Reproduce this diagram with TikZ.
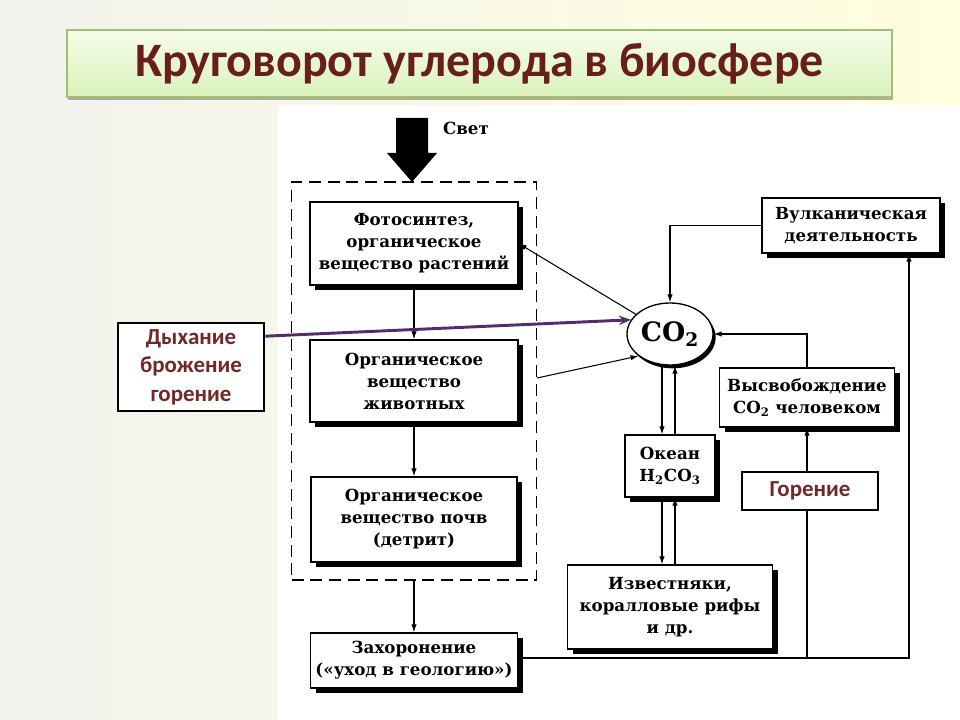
\documentclass[tikz,border=0pt]{standalone}
\usepackage{fontspec}
\setmainfont{DejaVu Serif}
\newfontfamily\calib{Carlito}
\usetikzlibrary{arrows.meta,shadows,calc,shapes.geometric}
\definecolor{bgl}{RGB}{242,242,238}
\definecolor{bgr}{RGB}{255,255,222}
\definecolor{titlered}{RGB}{105,30,30}
\definecolor{labred}{RGB}{112,40,40}
\definecolor{purp}{RGB}{82,45,110}
\definecolor{ttop}{RGB}{246,253,232}
\definecolor{tbot}{RGB}{218,242,188}
\definecolor{tborder}{RGB}{160,192,112}
\tikzset{
  pbox/.style={draw, line width=0.9pt, fill=white, align=center, inner sep=0pt,
    font=\bfseries\fontsize{12.5}{16.5}\selectfont,
    drop shadow={shadow xshift=4pt, shadow yshift=-4pt, fill=black, opacity=1}},
  lbox/.style={draw, line width=2pt, fill=white, align=center, inner sep=0pt,
    text=labred, font=\calib\bfseries\fontsize{17.2}{21.4}\selectfont},
  arr/.style={-{Latex[length=6pt,width=4pt]}, line width=0.8pt},
}
\begin{document}
\begin{tikzpicture}[x=0.75pt,y=-0.75pt]
\useasboundingbox (0,0) rectangle (960,720);
\shade[left color=bgl, right color=bgr] (0,0) rectangle (960,720);
\fill[white] (278,105) rectangle (960,720);
% title
\node[draw=tborder, line width=0.8pt, top color=ttop, bottom color=tbot,
  minimum width=618.75pt, minimum height=50.25pt, inner sep=0pt,
  drop shadow={shadow xshift=0.5pt, shadow yshift=-2pt, fill=black, opacity=0.3},
  text=titlered, font=\calib\bfseries\fontsize{36}{40}\selectfont]
  (title) at (479.5,63.5) {Круговорот углерода в биосфере};
% light arrow
\fill[black] (396,118) -- (428,118) -- (428,153) -- (437,153) -- (412,182)
  -- (387,153) -- (396,153) -- cycle;
\node[font=\bfseries\fontsize{12.5}{15}\selectfont] (svet) at (466,128) {Свет};
% dashed group
\node[draw, dash pattern=on 9pt off 5pt, line width=0.9pt,
  minimum width=183.75pt, minimum height=298.5pt, inner sep=0pt] (grp) at (414,381) {};
% boxes
\node[pbox, minimum width=156pt, minimum height=62.25pt] (b1) at (414,243.5)
  {Фотосинтез,\\органическое\\вещество растений};
\node[pbox, minimum width=156pt, minimum height=61.5pt] (b2) at (414,381)
  {Органическое\\вещество\\животных};
\node[pbox, minimum width=154.5pt, minimum height=63.75pt] (b3) at (414,519.5)
  {Органическое\\вещество почв\\(детрит)};
\node[pbox, minimum width=155.25pt, minimum height=41.25pt] (b4) at (414,660.5)
  {Захоронение\\(«уход в геологию»)};
\node[pbox, minimum width=133.5pt, minimum height=41.25pt] (volc) at (851,225.5)
  {Вулканическая\\деятельность};
\node[pbox, minimum width=131.25pt, minimum height=44.25pt] (vys) at (807,397.5)
  {Высвобождение\\CO\textsubscript{2} человеком};
\node[pbox, minimum width=67.5pt, minimum height=46.5pt] (ocean) at (670,466)
  {Океан\\H\textsubscript{2}CO\textsubscript{3}};
\node[pbox, minimum width=153.75pt, minimum height=63pt] (izv) at (670,607)
  {Известняки,\\коралловые рифы\\и др.};
\node[ellipse, draw, line width=1pt, fill=white, minimum width=64.5pt, minimum height=46.5pt,
  inner sep=0pt, font=\bfseries\fontsize{20}{22}\selectfont,
  drop shadow={shadow xshift=2pt, shadow yshift=-2.5pt, fill=black, opacity=1}]
  (co2) at (670,334) {CO\textsubscript{2}};
% helper coordinates
\coordinate (dr) at (537,378);
\coordinate (br) at (909,658);
% connectors
\draw[arr] (b1) -- (b2);
\draw[arr] (b2) -- (b3);
\draw[arr] (grp.south) -- (b4.north);
\draw[arr] (co2.150) -- (b1.east);
\draw[arr] (dr) -- (co2.215);
\draw[arr] (volc.west) -| (co2.north);
\draw[arr] (vys.north) |- (co2.east);
\draw[arr] ([xshift=-6pt]co2.south) -- ([xshift=-6pt]ocean.north);
\draw[arr] ([xshift=3.75pt]ocean.north) -- ([xshift=3.75pt]co2.south);
\draw[arr] ([xshift=-6pt]ocean.south) -- ([xshift=-6pt]izv.north);
\draw[arr] ([xshift=3.75pt]izv.north) -- ([xshift=3.75pt]ocean.south);
\draw[arr] (b4.east |- br) -- (br) -- (br |- volc.south);
\draw[arr] (vys.south |- br) -- (vys.south);
% overlay labels
\node[lbox, minimum width=109.5pt, minimum height=66pt] (lab) at (191,367)
  {Дыхание\\брожение\\горение};
\draw[purp, line width=2.2pt, -{Stealth[length=9pt,width=7pt]}]
  ($(lab.north east)!0.16!(lab.south east)$) -- (co2.160);
\node[lbox, minimum width=102pt, minimum height=28.5pt] (gor) at (810,491) {Горение};
\end{tikzpicture}
\end{document}
